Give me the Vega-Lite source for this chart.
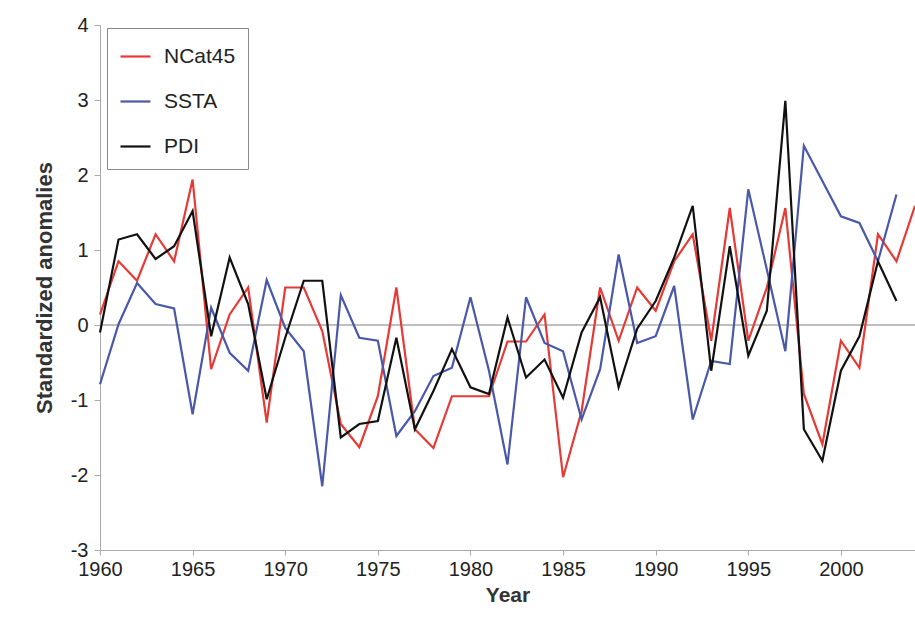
{
"$schema":"https://vega.github.io/schema/vega-lite/v6.json",
"width":815,"height":525,
"autosize":{"type":"none"},
"padding":{"left":100,"top":25,"right":0,"bottom":78},
"config":{"view":{"stroke":null},"font":"Liberation Sans"},
"datasets":{"d":[
{"s":"NCat45","y":1960,"v":0.14},{"s":"NCat45","y":1961,"v":0.85},{"s":"NCat45","y":1962,"v":0.59},{"s":"NCat45","y":1963,"v":1.21},{"s":"NCat45","y":1964,"v":0.85},{"s":"NCat45","y":1965,"v":1.94},{"s":"NCat45","y":1966,"v":-0.59},{"s":"NCat45","y":1967,"v":0.14},{"s":"NCat45","y":1968,"v":0.5},{"s":"NCat45","y":1969,"v":-1.3},{"s":"NCat45","y":1970,"v":0.5},{"s":"NCat45","y":1971,"v":0.5},{"s":"NCat45","y":1972,"v":-0.08},{"s":"NCat45","y":1973,"v":-1.32},{"s":"NCat45","y":1974,"v":-1.63},{"s":"NCat45","y":1975,"v":-0.95},{"s":"NCat45","y":1976,"v":0.5},{"s":"NCat45","y":1977,"v":-1.39},{"s":"NCat45","y":1978,"v":-1.64},{"s":"NCat45","y":1979,"v":-0.95},{"s":"NCat45","y":1980,"v":-0.95},{"s":"NCat45","y":1981,"v":-0.95},{"s":"NCat45","y":1982,"v":-0.22},{"s":"NCat45","y":1983,"v":-0.22},{"s":"NCat45","y":1984,"v":0.14},{"s":"NCat45","y":1985,"v":-2.03},{"s":"NCat45","y":1986,"v":-1.15},{"s":"NCat45","y":1987,"v":0.5},{"s":"NCat45","y":1988,"v":-0.21},{"s":"NCat45","y":1989,"v":0.5},{"s":"NCat45","y":1990,"v":0.19},{"s":"NCat45","y":1991,"v":0.85},{"s":"NCat45","y":1992,"v":1.21},{"s":"NCat45","y":1993,"v":-0.21},{"s":"NCat45","y":1994,"v":1.56},{"s":"NCat45","y":1995,"v":-0.21},{"s":"NCat45","y":1996,"v":0.5},{"s":"NCat45","y":1997,"v":1.56},{"s":"NCat45","y":1998,"v":-0.92},{"s":"NCat45","y":1999,"v":-1.59},{"s":"NCat45","y":2000,"v":-0.21},{"s":"NCat45","y":2001,"v":-0.57},{"s":"NCat45","y":2002,"v":1.21},{"s":"NCat45","y":2003,"v":0.85},{"s":"NCat45","y":2004,"v":1.59},
{"s":"SSTA","y":1960,"v":-0.79},{"s":"SSTA","y":1961,"v":0.01},{"s":"SSTA","y":1962,"v":0.56},{"s":"SSTA","y":1963,"v":0.28},{"s":"SSTA","y":1964,"v":0.22},{"s":"SSTA","y":1965,"v":-1.19},{"s":"SSTA","y":1966,"v":0.23},{"s":"SSTA","y":1967,"v":-0.37},{"s":"SSTA","y":1968,"v":-0.61},{"s":"SSTA","y":1969,"v":0.6},{"s":"SSTA","y":1970,"v":-0.04},{"s":"SSTA","y":1971,"v":-0.35},{"s":"SSTA","y":1972,"v":-2.15},{"s":"SSTA","y":1973,"v":0.4},{"s":"SSTA","y":1974,"v":-0.17},{"s":"SSTA","y":1975,"v":-0.21},{"s":"SSTA","y":1976,"v":-1.48},{"s":"SSTA","y":1977,"v":-1.15},{"s":"SSTA","y":1978,"v":-0.68},{"s":"SSTA","y":1979,"v":-0.57},{"s":"SSTA","y":1980,"v":0.37},{"s":"SSTA","y":1981,"v":-0.61},{"s":"SSTA","y":1982,"v":-1.86},{"s":"SSTA","y":1983,"v":0.37},{"s":"SSTA","y":1984,"v":-0.24},{"s":"SSTA","y":1985,"v":-0.35},{"s":"SSTA","y":1986,"v":-1.26},{"s":"SSTA","y":1987,"v":-0.59},{"s":"SSTA","y":1988,"v":0.94},{"s":"SSTA","y":1989,"v":-0.24},{"s":"SSTA","y":1990,"v":-0.15},{"s":"SSTA","y":1991,"v":0.52},{"s":"SSTA","y":1992,"v":-1.26},{"s":"SSTA","y":1993,"v":-0.48},{"s":"SSTA","y":1994,"v":-0.52},{"s":"SSTA","y":1995,"v":1.81},{"s":"SSTA","y":1996,"v":0.74},{"s":"SSTA","y":1997,"v":-0.35},{"s":"SSTA","y":1998,"v":2.39},{"s":"SSTA","y":1999,"v":1.92},{"s":"SSTA","y":2000,"v":1.45},{"s":"SSTA","y":2001,"v":1.36},{"s":"SSTA","y":2002,"v":0.85},{"s":"SSTA","y":2003,"v":1.74},
{"s":"PDI","y":1960,"v":-0.1},{"s":"PDI","y":1961,"v":1.14},{"s":"PDI","y":1962,"v":1.21},{"s":"PDI","y":1963,"v":0.88},{"s":"PDI","y":1964,"v":1.05},{"s":"PDI","y":1965,"v":1.52},{"s":"PDI","y":1966,"v":-0.15},{"s":"PDI","y":1967,"v":0.9},{"s":"PDI","y":1968,"v":0.28},{"s":"PDI","y":1969,"v":-0.99},{"s":"PDI","y":1970,"v":-0.17},{"s":"PDI","y":1971,"v":0.59},{"s":"PDI","y":1972,"v":0.59},{"s":"PDI","y":1973,"v":-1.5},{"s":"PDI","y":1974,"v":-1.32},{"s":"PDI","y":1975,"v":-1.28},{"s":"PDI","y":1976,"v":-0.17},{"s":"PDI","y":1977,"v":-1.39},{"s":"PDI","y":1978,"v":-0.88},{"s":"PDI","y":1979,"v":-0.32},{"s":"PDI","y":1980,"v":-0.83},{"s":"PDI","y":1981,"v":-0.92},{"s":"PDI","y":1982,"v":0.1},{"s":"PDI","y":1983,"v":-0.7},{"s":"PDI","y":1984,"v":-0.46},{"s":"PDI","y":1985,"v":-0.97},{"s":"PDI","y":1986,"v":-0.1},{"s":"PDI","y":1987,"v":0.37},{"s":"PDI","y":1988,"v":-0.83},{"s":"PDI","y":1989,"v":-0.05},{"s":"PDI","y":1990,"v":0.32},{"s":"PDI","y":1991,"v":0.9},{"s":"PDI","y":1992,"v":1.59},{"s":"PDI","y":1993,"v":-0.61},{"s":"PDI","y":1994,"v":1.05},{"s":"PDI","y":1995,"v":-0.41},{"s":"PDI","y":1996,"v":0.19},{"s":"PDI","y":1997,"v":2.99},{"s":"PDI","y":1998,"v":-1.39},{"s":"PDI","y":1999,"v":-1.81},{"s":"PDI","y":2000,"v":-0.61},{"s":"PDI","y":2001,"v":-0.15},{"s":"PDI","y":2002,"v":0.85},{"s":"PDI","y":2003,"v":0.32}
],"z":[{"v":0}]},
"layer":[
{"data":{"name":"z"},"mark":{"type":"rule","color":"#aaaaaa","strokeWidth":1.5},"encoding":{"y":{"field":"v","type":"quantitative","scale":{"domain":[-3,4]}}}},
{"data":{"name":"d"},"mark":{"type":"line","strokeWidth":2.2},
"encoding":{
"x":{"field":"y","type":"quantitative","scale":{"domain":[1960,2004],"nice":false,"zero":false},
"axis":{"title":"Year","values":[1960,1965,1970,1975,1980,1985,1990,1995,2000],"format":"d","grid":false,"labelFlush":false,"labelFontSize":20,"titleFontSize":21,"titleFontWeight":"bold","titleColor":"#333","labelColor":"#222","domainColor":"#aaa","tickColor":"#aaa","tickSize":5,"labelPadding":4,"titlePadding":5}},
"y":{"field":"v","type":"quantitative","scale":{"domain":[-3,4],"nice":false},
"axis":{"title":"Standardized anomalies","tickCount":7,"grid":false,"labelFlush":false,"labelExpr":"replace(datum.label,'−','-')","labelFontSize":20,"titleFontSize":22,"titleFontWeight":"bold","titleColor":"#333","labelColor":"#222","domainColor":"#aaa","tickColor":"#aaa","tickSize":6,"labelPadding":6,"titlePadding":14}},
"color":{"field":"s","type":"nominal","scale":{"domain":["NCat45","SSTA","PDI"],"range":["#e63a36","#4a58a8","#111111"]},
"legend":{"title":null,"orient":"none","legendX":7,"legendY":3,"symbolType":"stroke","symbolSize":900,"symbolStrokeWidth":2.2,"labelFontSize":21,"labelColor":"#222","rowPadding":18,"padding":12,"strokeColor":"#888","fillColor":"white","labelOffset":12}}
}}
]}
